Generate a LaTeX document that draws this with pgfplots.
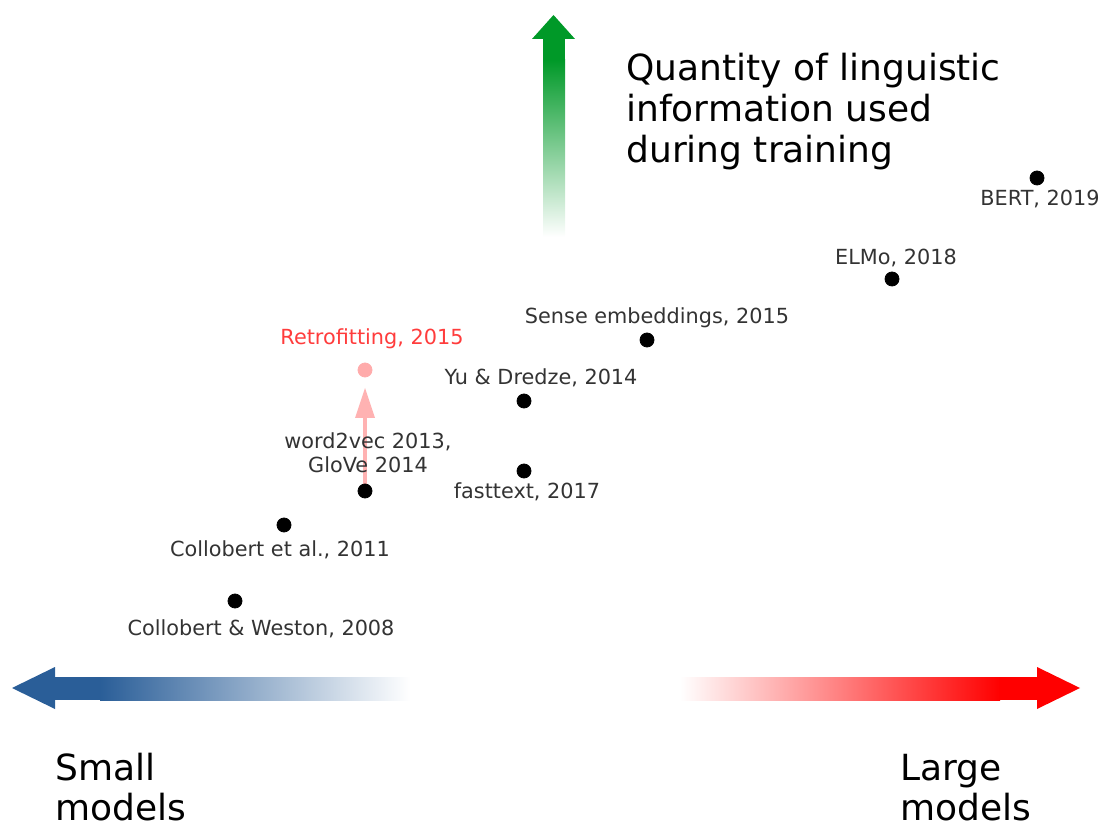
\documentclass[border=0pt]{standalone}
\usepackage{pgfplots}
\pgfplotsset{compat=1.18}
\usepackage{fontspec}
\setmainfont{DejaVu Sans}
\definecolor{lbl}{RGB}{51,51,51}
\definecolor{upgreen}{RGB}{0,153,40}
\definecolor{leftblue}{RGB}{42,94,152}
\definecolor{retro}{RGB}{255,60,60}

% pixel coordinates of the reference, y counted from the bottom
\pgfplotstableread{
x y
235 224
284 300
365 334
524 354
524 424
647 485
892 546
1037 647
}\models

\begin{document}
\begin{tikzpicture}
\begin{axis}[
width=551pt, height=412.5pt, scale only axis,
xmin=0, xmax=1102, ymin=0, ymax=825,
hide axis, clip=false,
]
% gradient arrows
\fill[bottom color=white, top color=upgreen] (axis cs:543,588) rectangle (axis cs:565,765);
\fill[upgreen] (axis cs:543,764) rectangle (axis cs:565,786);
\fill[upgreen] (axis cs:532,786) -- (axis cs:575,786) -- (axis cs:553.5,810) -- cycle;

\fill[left color=leftblue, right color=white] (axis cs:100,125) rectangle (axis cs:410,148);
\fill[leftblue] (axis cs:54,125) rectangle (axis cs:101,148);
\fill[leftblue] (axis cs:55,158) -- (axis cs:55,116) -- (axis cs:12,137) -- cycle;

\fill[left color=white, right color=red] (axis cs:680,125) rectangle (axis cs:1000,148);
\fill[red] (axis cs:999,125) rectangle (axis cs:1038,148);
\fill[red] (axis cs:1037,158) -- (axis cs:1037,116) -- (axis cs:1080,137) -- cycle;

\addplot[only marks, mark=*, mark size=3.5pt, black] table {\models};
\addplot[only marks, mark=*, mark size=3.5pt, red!33, draw=red!33] coordinates {(365,455)};
\draw[red, opacity=0.3, line width=2pt] (axis cs:365,334) -- (axis cs:365,407);
\fill[red, opacity=0.3] (axis cs:355,407) -- (axis cs:375,407) -- (axis cs:365,437) -- cycle;

\begin{scope}[every node/.style={font=\fontsize{10.4}{12}\selectfont, text=lbl, inner sep=0pt}]
\node at (axis cs:261,196) {Collobert \& Weston, 2008};
\node at (axis cs:280,275) {Collobert et al., 2011};
\node[align=center] at (axis cs:368,372) {word2vec 2013,\\GloVe 2014};
\node at (axis cs:527,333) {fasttext, 2017};
\node at (axis cs:541,447) {Yu \& Dredze, 2014};
\node at (axis cs:657,507) {Sense embeddings, 2015};
\node at (axis cs:896,567) {ELMo, 2018};
\node at (axis cs:1040,626) {BERT, 2019};
\node[text=retro] at (axis cs:372,486) {Retrofitting, 2015};
\end{scope}

\begin{scope}[every node/.style={font=\fontsize{18}{20.5}\selectfont, anchor=base west, inner sep=0pt}]
\node at (axis cs:626,744) {Quantity of linguistic};
\node at (axis cs:626,703) {information used};
\node at (axis cs:626,662) {during training};
\node at (axis cs:55,45) {Small};
\node at (axis cs:55,5) {models};
\node at (axis cs:900,45) {Large};
\node at (axis cs:900,5) {models};
\end{scope}
\end{axis}
\pgfresetboundingbox
\path (current axis.south west) rectangle (current axis.north east);
\end{tikzpicture}
\end{document}
